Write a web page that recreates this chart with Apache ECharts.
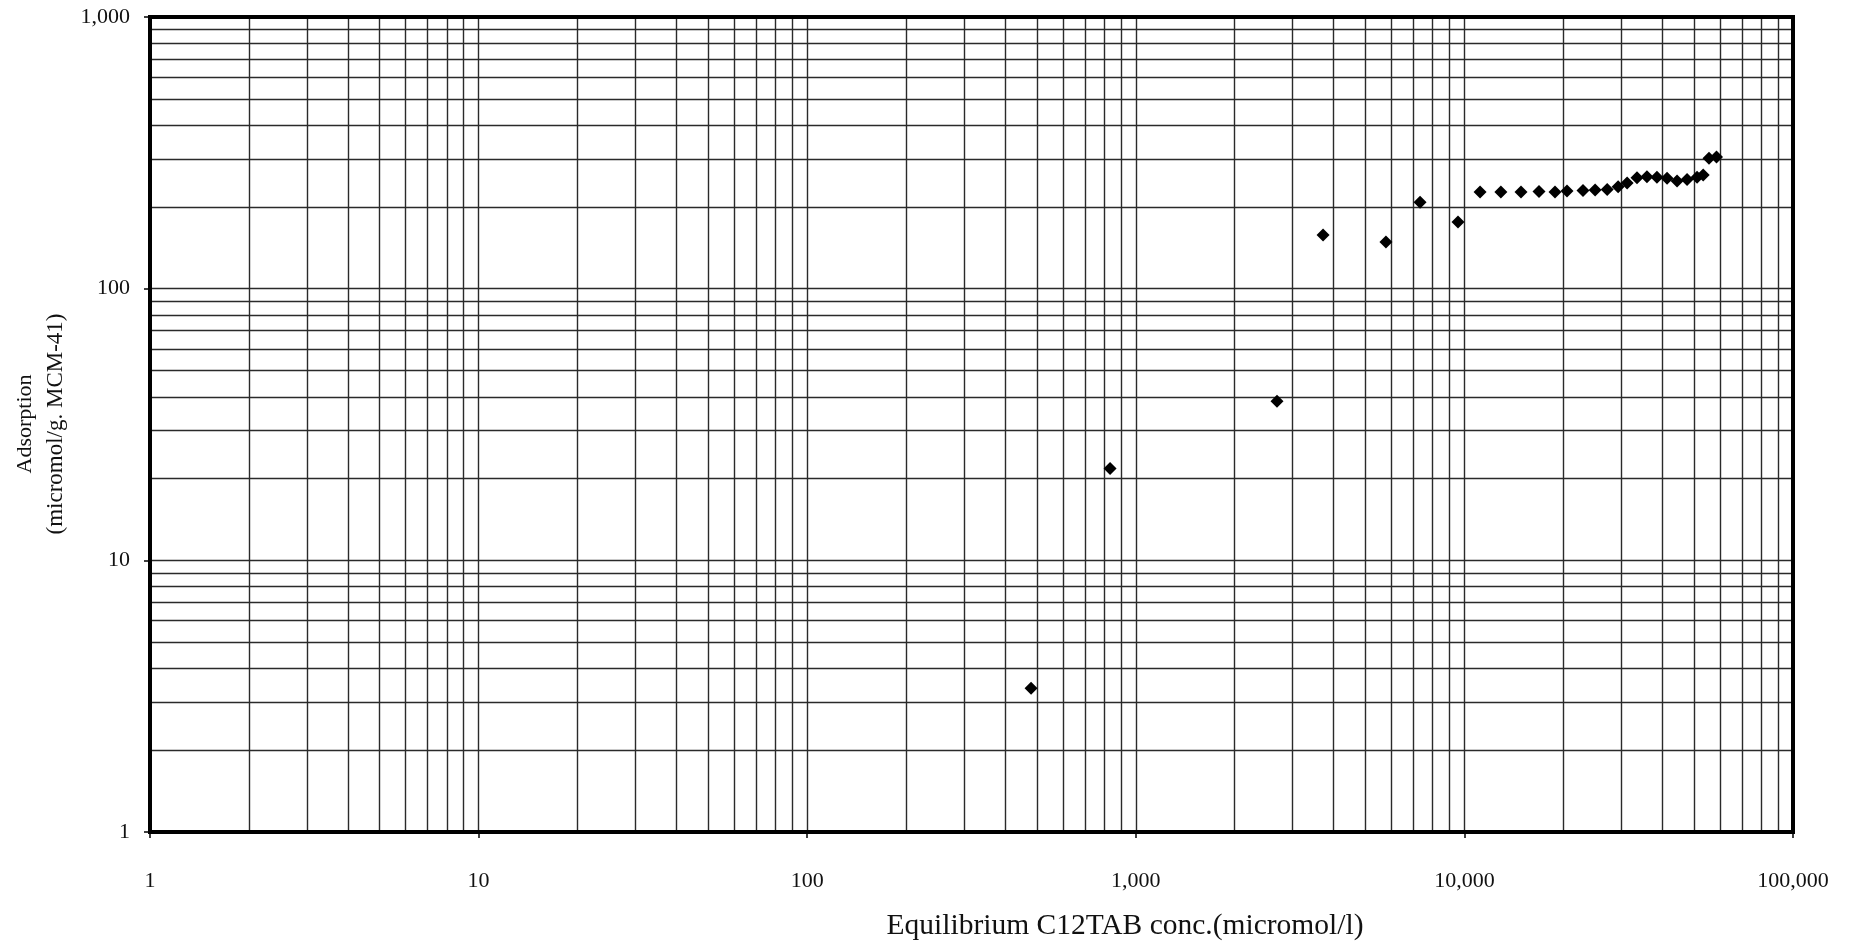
<!DOCTYPE html>
<html>
<head>
<meta charset="utf-8">
<script src="https://cdn.jsdelivr.net/npm/echarts@6/dist/echarts.min.js"></script>
<style>
  html, body { margin: 0; padding: 0; background: #fff; }
  #chart { width: 1856px; height: 946px; }
</style>
</head>
<body>
<div id="chart"></div>
<script>
// Equilibrium C12TAB concentration (micromol/l)
const concentration = [480, 835, 2690, 3715, 5770, 7330, 9560,
  11160, 12910, 14870, 16870, 18870, 20520, 22960, 24990, 27200, 29360,
  31270, 33520, 35940, 38540, 41370, 44380, 47600, 51060, 53300,
  55500, 58500];
// Adsorption (micromol/g MCM-41)
const adsorption = [3.38, 21.8, 38.5, 157.5, 148.6, 208, 176,
  227, 227, 227, 228, 227, 229, 230, 231, 232, 237,
  245, 256, 258, 257, 255, 249, 252, 257, 262,
  302, 305];

// Log-scale decade ranges for the axes
const xDecades = [1, 10, 100, 1000, 10000];
const yDecades = [1, 10, 100];
const minorSteps = [2, 3, 4, 5, 6, 7, 8, 9];

const FONT = '"Liberation Serif", "DejaVu Serif", serif';
const INK = '#111';
const GRID_COLOR = '#2a2a2a';

function minorValues(decades) {
  const out = [];
  decades.forEach(d => minorSteps.forEach(m => out.push(d * m)));
  return out;
}

const points = concentration.map((c, i) => [c, adsorption[i]]);

const gridLineStyle = { color: GRID_COLOR, width: 1.4, type: 'solid' };

const chart = echarts.init(document.getElementById('chart'), null, { renderer: 'canvas' });

chart.setOption({
  backgroundColor: '#ffffff',
  animation: false,
  grid: {
    left: 150, right: 63, top: 17, bottom: 114,
    show: true, borderColor: '#000', borderWidth: 4, backgroundColor: 'transparent',
    z: 10
  },
  xAxis: {
    type: 'log', logBase: 10, min: 1, max: 100000,
    axisLine: { show: false },
    axisTick: { show: true, length: 6, inside: false, lineStyle: { color: '#000', width: 1.5 } },
    splitLine: { show: true, lineStyle: gridLineStyle },
    axisLabel: {
      margin: 38, fontFamily: FONT, fontSize: 22, color: INK,
      formatter: v => Number(v).toLocaleString('en-US')
    }
  },
  yAxis: {
    type: 'log', logBase: 10, min: 1, max: 1000,
    axisLine: { show: false },
    axisTick: { show: true, length: 6, inside: false, lineStyle: { color: '#000', width: 1.5 } },
    splitLine: { show: true, lineStyle: gridLineStyle },
    axisLabel: {
      margin: 20, fontFamily: FONT, fontSize: 22, color: INK,
      formatter: v => Number(v).toLocaleString('en-US')
    }
  },
  graphic: [
    {
      type: 'text', x: 1125, y: 926,
      style: {
        text: 'Equilibrium C12TAB conc.(micromol/l)',
        font: '29.5px ' + FONT, fill: INK,
        textAlign: 'center', textVerticalAlign: 'middle'
      }
    },
    {
      type: 'text', x: 25, y: 424, rotation: Math.PI / 2,
      style: {
        text: 'Adsorption',
        font: '22px ' + FONT, fill: INK,
        textAlign: 'center', textVerticalAlign: 'middle'
      }
    },
    {
      type: 'text', x: 56, y: 424, rotation: Math.PI / 2,
      style: {
        text: '(micromol/g. MCM-41)',
        font: '23px ' + FONT, fill: INK,
        textAlign: 'center', textVerticalAlign: 'middle'
      }
    }
  ],
  series: [
    {
      // minor grid lines at 2..9 of every decade
      type: 'line', data: [], silent: true,
      markLine: {
        silent: true, symbol: ['none', 'none'], animation: false,
        label: { show: false },
        lineStyle: gridLineStyle,
        data: minorValues(xDecades).map(v => ({ xAxis: v }))
          .concat(minorValues(yDecades).map(v => ({ yAxis: v })))
      }
    },
    {
      type: 'scatter',
      data: points,
      symbol: 'diamond',
      symbolSize: [13, 13],
      itemStyle: { color: '#000', opacity: 1 },
      z: 5
    }
  ]
});
</script>
</body>
</html>
